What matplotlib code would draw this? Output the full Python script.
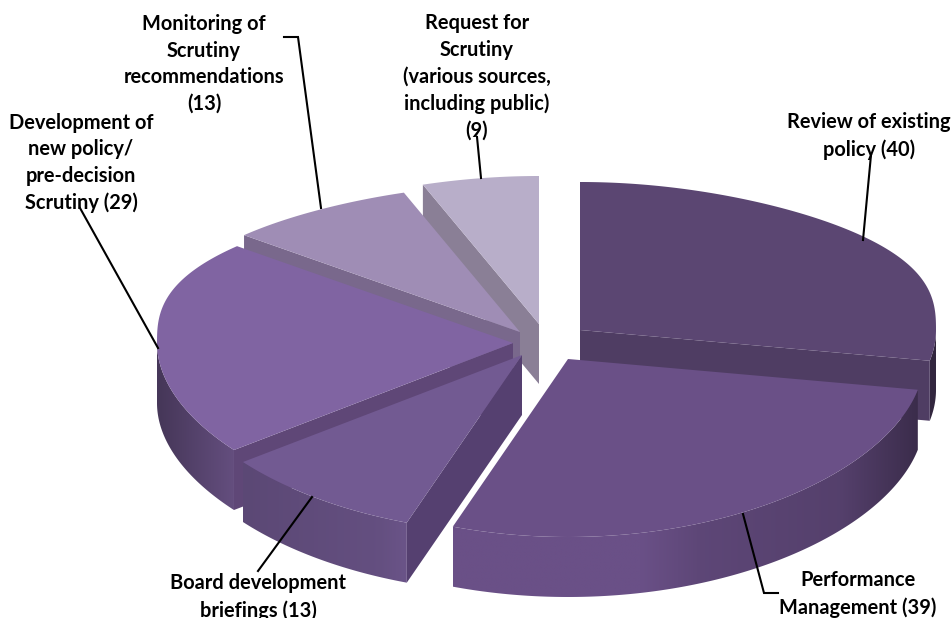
import numpy as np
import matplotlib
matplotlib.use("Agg")
import matplotlib.pyplot as plt
from matplotlib.colors import to_rgb
from matplotlib.patches import Polygon

values = [40, 39, 13, 29, 13, 9]
labels = ["Review of existing\npolicy (40)",
          "Performance\nManagement (39)",
          "Board development\nbriefings (13)",
          "Development of\nnew policy/\npre-decision\nScrutiny (29)",
          "Monitoring of\nScrutiny\nrecommendations\n(13)",
          "Request for\nScrutiny\n(various sources,\nincluding public)\n(9)"]
top_colors = ["#5b4672", "#6a5087", "#725a92", "#8064a2", "#9f8db5", "#b8aec9"]
side_colors = ["#4f3d63", "#55406f", "#554070", "#5f4777", "#79688c", "#8a7f96"]

# where each slice's tip ended up after exploding (pixels)
apex_x = [580, 568, 522, 513, 520, 539]
apex_y = [330, 359, 355, 343, 332, 324]
label_x = [869, 858, 258, 81, 204, 477]
label_y = [136, 594, 597, 163, 64, 77]
leaders = [[(863, 240), (871, 155)],
           [(743, 514), (764, 593), (778, 593)],
           [(312, 497), (258, 571)],
           [(158, 348), (80, 208)],
           [(321, 208), (298, 37), (284, 37)],
           [(481, 178), (477, 137)]]

rx, ry, persp, depth = 356, 163, 0.092, 60
draw_order = [5, 4, 3, 2, 0, 1]


def project(theta, ax_, ay_):
    sx, cy = np.sin(theta), -np.cos(theta)
    # the far half of the ellipse is foreshortened
    x = ax_ + rx * sx * np.where(cy < 0, 1 - 0.18 * cy ** 2, 1)
    y = ay_ + np.where(cy < 0, -148 * np.abs(cy) ** 0.75, ry * cy * (1 + persp * cy))
    return x, y


def shade(dx):
    return np.interp(np.abs(dx), [0, 100, 160, 300, 380], [1, 1, 0.88, 0.8, 0.55])


def faces_viewer(p, q, inside):
    # a cut face shows only if dropping the edge moves it away from the slice
    ex, ey = q[0] - p[0], q[1] - p[1]
    side_in = ex * (inside[1] - p[1]) - ey * (inside[0] - p[0])
    side_down = ex
    return side_in * side_down < 0


fig, ax = plt.subplots(figsize=(9.52, 6.18), dpi=100)
fig.subplots_adjust(0, 0, 1, 1)

edges = np.radians(np.cumsum([0] + values) / sum(values) * 360)
z = 1
for i in draw_order:
    t = np.linspace(edges[i], edges[i + 1], 200)
    x, y = project(t, apex_x[i], apex_y[i])
    apex = (apex_x[i], apex_y[i])
    mid = (x[100], y[100])

    # rim: only the stretch running right to left faces the viewer
    keep = np.r_[np.diff(x) < 0, False]
    keep[1:] |= keep[:-1]
    if keep.sum() > 1:
        xr, yr = x[keep], y[keep]
        poly = Polygon(np.c_[np.r_[xr, xr[::-1]], np.r_[yr, yr[::-1] + depth]],
                       closed=True, transform=ax.transData, fc="none", ec="none")
        ax.add_patch(poly)
        grid = np.linspace(xr.min(), xr.max(), 300)
        rgb = np.array(to_rgb(top_colors[i]))[None, None, :] * shade(grid - 540)[None, :, None]
        im = ax.imshow(rgb, extent=(grid[0], grid[-1], yr.max() + depth, yr.min()),
                       aspect="auto", zorder=z, interpolation="bilinear")
        im.set_clip_path(poly)

    # the two flat cut faces
    for j in (0, -1):
        if faces_viewer(apex, (x[j], y[j]), mid):
            ax.fill([apex[0], x[j], x[j], apex[0]],
                    [apex[1], y[j], y[j] + depth, apex[1] + depth],
                    color=side_colors[i], lw=0, zorder=z + 1)
    # top face
    ax.fill(np.r_[apex[0], x], np.r_[apex[1], y], color=top_colors[i], lw=0, zorder=z + 2)
    z += 3

for pts in leaders:
    ax.plot(*zip(*pts), color="black", lw=1.5, zorder=50, solid_joinstyle="miter")

for lab, lx, ly in zip(labels, label_x, label_y):
    ax.text(lx, ly, lab, ha="center", va="center", family="Lato", weight="bold",
            fontsize=14.4, linespacing=1.42, color="black", zorder=60)

ax.set_xlim(0, 952)
ax.set_ylim(618, 0)
ax.axis("off")
fig.savefig("out.png", dpi=100)
